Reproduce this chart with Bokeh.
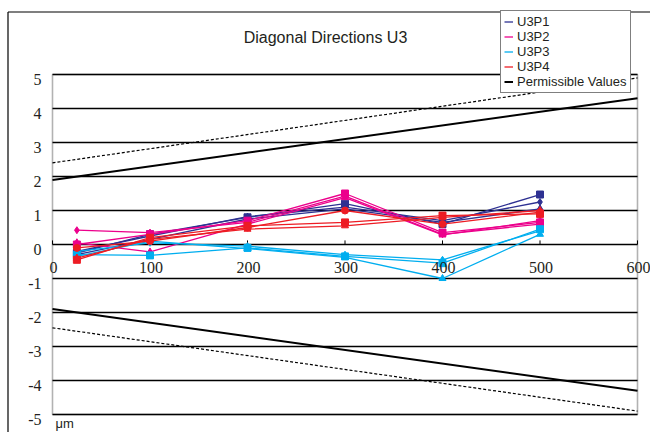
from bokeh.plotting import figure
from bokeh.models import Range1d, Label, LabelSet, ColumnDataSource, Legend, LegendItem, BoxAnnotation
from bokeh.embed import file_html
from bokeh.resources import INLINE

# ---- data ----
positions = [25, 100, 200, 300, 400, 500]

u3p1 = [
    [-0.25, 0.30, 0.80, 1.20, 0.60, 1.47],
    [-0.20, 0.25, 0.82, 1.10, 0.70, 1.25],
    [-0.30, 0.15, 0.75, 1.05, 0.65, 1.05],
]
u3p2 = [
    [0.00, 0.30, 0.70, 1.50, 0.35, 0.65],
    [0.42, 0.35, 0.65, 1.42, 0.30, 0.60],
    [0.05, -0.22, 0.60, 1.38, 0.28, 0.70],
]
u3p3 = [
    [-0.30, -0.32, -0.10, -0.35, -0.55, 0.45],
    [-0.20, 0.05, -0.05, -0.30, -0.45, 0.40],
    [-0.35, 0.10, -0.12, -0.38, -1.00, 0.30],
]
u3p4 = [
    [-0.45, 0.20, 0.55, 0.65, 0.85, 0.90],
    [-0.10, 0.10, 0.50, 1.00, 0.60, 0.95],
    [-0.40, 0.15, 0.45, 0.55, 0.80, 1.00],
]
series_names = ["U3P1", "U3P2", "U3P3", "U3P4"]

perm_x = [0, 600]
perm_upper = [1.9, 4.3]
perm_lower = [-1.9, -4.3]
perm2_upper = [2.4, 4.9]
perm2_lower = [-2.45, -4.9]

x_ticks = [0, 100, 200, 300, 400, 500, 600]
y_ticks = [-5, -4, -3, -2, -1, 0, 1, 2, 3, 4, 5]
x_tick_labels = ["0", "100", "200", "300", "400", "500", "600"]
y_tick_labels = ["-5", "-4", "-3", "-2", "-1", "0", "1", "2", "3", "4", "5"]

# ---- styles / layout ----
series_colors = ["#2E3192", "#EC008C", "#00AEEF", "#ED1C24"]
series_markers = [["square", "diamond", "triangle"],
                  ["square", "diamond", "triangle"],
                  ["square", "diamond", "triangle"],
                  ["square", "circle", "triangle"]]
FONT = "Liberation Sans"
TXT = "#231F20"
W, H = 650, 432
# plot area in canvas pixels: x 0 -> 52px, 600 -> 637px ; y 5 -> 74px, -5 -> 414px
X0PX, XSCALE = 52.0, 585.0 / 600.0
Y0PX, YSCALE = 244.0, 34.0


def dx(px):
    return (px - X0PX) / XSCALE


def dy(py):
    return (Y0PX - py) / YSCALE


p = figure(width=W, height=H, output_backend="svg", toolbar_location=None,
           x_range=Range1d(dx(0), dx(W)), y_range=Range1d(dy(H), dy(0)),
           x_axis_location=None, y_axis_location=None,
           min_border=0, min_border_left=0, min_border_right=0,
           min_border_top=0, min_border_bottom=0)
p.outline_line_color = None
p.grid.visible = False
p.background_fill_color = "white"
p.border_fill_color = "white"

# outer chart border (only its left and top edges fall inside the picture)
p.multi_line(xs=[[dx(7.5), dx(7.5)], [dx(7.5), dx(W + 5)]],
             ys=[[dy(H + 5), dy(11.5)], [dy(11.5), dy(11.5)]],
             line_color="black", line_width=1.2)

# horizontal gridlines at the y ticks, spanning the x range of the axis
p.segment(x0=[x_ticks[0]] * len(y_ticks), y0=y_ticks,
          x1=[x_ticks[-1]] * len(y_ticks), y1=y_ticks,
          line_color="black", line_width=1.3)
# plot-area frame
p.add_layout(BoxAnnotation(left=x_ticks[0], right=x_ticks[-1], bottom=y_ticks[0], top=y_ticks[-1],
                           fill_alpha=0, line_color="black", line_width=1.6))

# small ticks on the zero line
p.segment(x0=x_ticks, y0=[0] * len(x_ticks), x1=x_ticks, y1=[0.12] * len(x_ticks),
          line_color="black", line_width=1)

# permissible values
perm_r = p.line(perm_x, perm_upper, line_color="black", line_width=2)
p.line(perm_x, perm_lower, line_color="black", line_width=2)
p.line(perm_x, perm2_upper, line_color="black", line_width=1.2, line_dash="3 2")
p.line(perm_x, perm2_lower, line_color="black", line_width=1.2, line_dash="3 2")

items = []
for name, color, group, markers in zip(series_names, series_colors,
                                       [u3p1, u3p2, u3p3, u3p4], series_markers):
    first = None
    for vals, mk in zip(group, markers):
        r = p.line(positions, vals, line_color=color, line_width=1.3)
        p.scatter(positions, vals, marker=mk, size=7, fill_color=color, line_color=color)
        if first is None:
            first = r
    items.append(LegendItem(label=name, renderers=[first]))
items.append(LegendItem(label="Permissible Values", renderers=[perm_r]))

# legend: location is its bottom-left corner, measured from the frame's bottom-left
legend = Legend(items=items, location=(500, H - 93), label_text_font=FONT,
                label_text_font_size="13px", label_text_color=TXT,
                glyph_width=9, glyph_height=15,
                label_height=15, spacing=0, padding=3, margin=0, label_standoff=4,
                border_line_color="black", border_line_width=1,
                background_fill_color="white", background_fill_alpha=1.0)
p.add_layout(legend)

# x tick labels along the zero line
xsrc = ColumnDataSource(dict(x=x_ticks, y=[0] * len(x_ticks), t=x_tick_labels))
p.add_layout(LabelSet(x="x", y="y", text="t", source=xsrc, y_offset=-17, x_offset=1,
                      text_align="center", text_baseline="top",
                      text_font=FONT, text_font_size="16px", text_color=TXT))

# y tick labels
ysrc = ColumnDataSource(dict(x=[x_ticks[0]] * len(y_ticks), y=y_ticks, t=y_tick_labels))
p.add_layout(LabelSet(x="x", y="y", text="t", source=ysrc, x_offset=-11, y_offset=-5,
                      text_align="right", text_baseline="middle",
                      text_font=FONT, text_font_size="16px", text_color=TXT))

# title
p.add_layout(Label(x=dx(325), y=dy(37), text="Diagonal Directions U3",
                   text_align="center", text_baseline="middle",
                   text_font=FONT, text_font_size="16px", text_color=TXT))

# unit label
p.add_layout(Label(x=x_ticks[0], y=y_ticks[0], x_offset=3, y_offset=-1, text="μm",
                   text_align="left", text_baseline="top",
                   text_font=FONT, text_font_size="13px", text_color=TXT))

open("out.html", "w").write(file_html(p, INLINE))
